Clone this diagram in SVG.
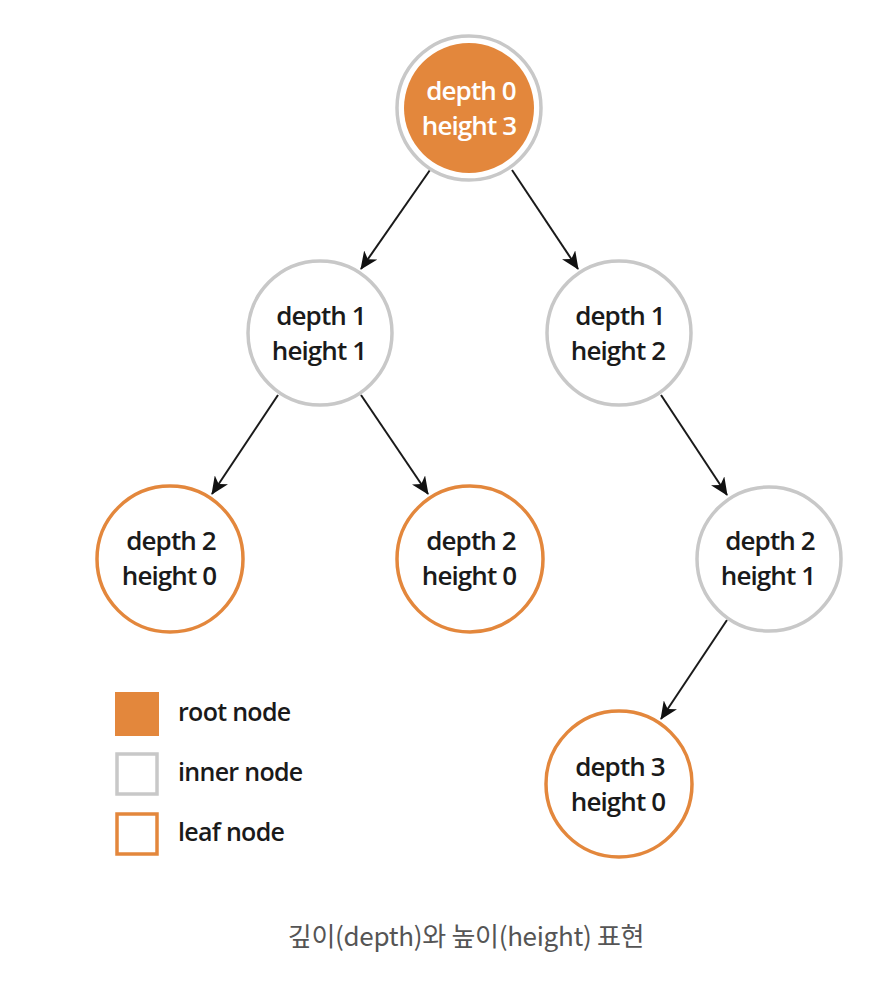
<svg xmlns="http://www.w3.org/2000/svg" width="884" height="992" viewBox="0 0 884 992">
  <defs>
    <marker id="arrow" markerWidth="18" markerHeight="16" refX="17" refY="8" orient="auto" markerUnits="userSpaceOnUse">
      <path d="M0,0 L18,8 L0,16 L5,8 Z" fill="#111"/>
    </marker>
  </defs>
  <style>
    .label { font-family: "Open Sans", "Liberation Sans", sans-serif; font-size: 26px; font-weight: 600; fill: #1a1a1a; text-anchor: middle; letter-spacing: -0.9px; }
    .root-label { fill: #ffffff; }
    .inner { fill: #ffffff; stroke: #c8c8c8; stroke-width: 3.5; }
    .leaf { fill: #ffffff; stroke: #e3873c; stroke-width: 3.5; }
    .root-fill { fill: #e3873c; }
    .root-ring { fill: #ffffff; stroke: #c8c8c8; stroke-width: 3.5; }
    .edge { stroke: #1a1a1a; stroke-width: 2; fill: none; marker-end: url(#arrow); }
    .legend-text { font-family: "Open Sans", "Liberation Sans", sans-serif; font-size: 25px; font-weight: 600; fill: #1a1a1a; letter-spacing: -0.7px; }
    .caption { font-family: "Noto Sans CJK KR", "Noto Sans", sans-serif; font-size: 26px; font-weight: 400; fill: #555555; text-anchor: middle; letter-spacing: -0.3px; }
  </style>
  <rect width="884" height="992" fill="#ffffff"/>

  <!-- edges -->
  <g id="edges">
    <line class="edge" x1="430" y1="170" x2="361" y2="269"/>
    <line class="edge" x1="512" y1="170" x2="578" y2="269"/>
    <line class="edge" x1="278" y1="395" x2="212" y2="494"/>
    <line class="edge" x1="361" y1="395" x2="428" y2="494"/>
    <line class="edge" x1="661" y1="395" x2="727" y2="495"/>
    <line class="edge" x1="727" y1="620" x2="661" y2="719"/>
  </g>

  <!-- root -->
  <g id="n-root">
    <circle class="root-ring" cx="469" cy="108" r="72"/>
    <circle class="root-fill" cx="469" cy="108" r="65"/>
    <text class="label root-label" x="471" y="100">depth 0</text>
    <text class="label root-label" x="469" y="135">height 3</text>
  </g>

  <g id="n-d1-left">
    <circle class="inner" cx="320" cy="333" r="72"/>
    <text class="label" x="321" y="325">depth 1</text>
    <text class="label" x="319" y="360">height 1</text>
  </g>

  <g id="n-d1-right">
    <circle class="inner" cx="619" cy="333" r="72"/>
    <text class="label" x="620" y="325">depth 1</text>
    <text class="label" x="618" y="360">height 2</text>
  </g>

  <g id="n-d2-left">
    <circle class="leaf" cx="170" cy="559" r="73"/>
    <text class="label" x="171" y="550">depth 2</text>
    <text class="label" x="169" y="585">height 0</text>
  </g>

  <g id="n-d2-mid">
    <circle class="leaf" cx="470" cy="559" r="73"/>
    <text class="label" x="471" y="550">depth 2</text>
    <text class="label" x="469" y="585">height 0</text>
  </g>

  <g id="n-d2-right">
    <circle class="inner" cx="769" cy="559" r="72"/>
    <text class="label" x="770" y="550">depth 2</text>
    <text class="label" x="768" y="585">height 1</text>
  </g>

  <g id="n-d3">
    <circle class="leaf" cx="619" cy="784" r="73"/>
    <text class="label" x="620" y="776">depth 3</text>
    <text class="label" x="618" y="811">height 0</text>
  </g>

  <!-- legend -->
  <g id="legend">
    <rect x="115" y="692" width="44" height="44" fill="#e3873c"/>
    <rect x="117" y="754" width="40" height="40" fill="#ffffff" stroke="#c8c8c8" stroke-width="3.5"/>
    <rect x="117" y="814" width="40" height="40" fill="#ffffff" stroke="#e3873c" stroke-width="3.5"/>
    <text class="legend-text" x="178" y="721">root node</text>
    <text class="legend-text" x="178" y="781">inner node</text>
    <text class="legend-text" x="178" y="841">leaf node</text>
  </g>

  <text class="caption" x="466" y="946">깊이(depth)와 높이(height) 표현</text>
</svg>
